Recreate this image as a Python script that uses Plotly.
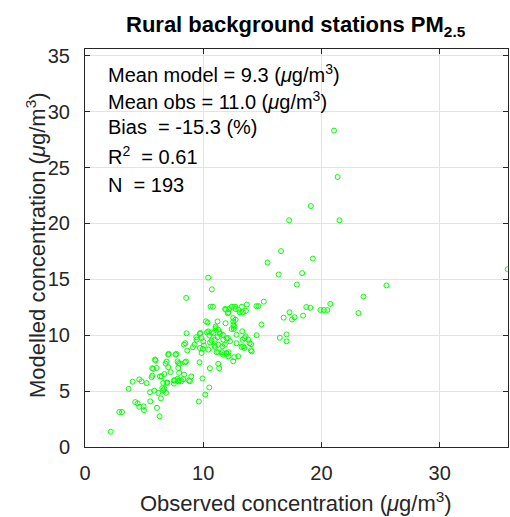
import plotly.graph_objects as go

# Observed (x) and modelled (y) concentrations
obs = [
    # sparse / high values
    21.07, 21.37, 19.10, 17.27, 21.53, 16.58, 19.27, 15.44, 35.75, 16.38, 18.37, 17.92,
    25.50, 23.56, 23.13, 20.75, 20.50, 20.20, 19.92, 19.06, 18.72, 18.45, 17.73, 17.50,
    17.30, 16.80, 17.05, 17.05, 16.48, 14.93, 14.52, 15.12, 14.50, 14.67, 14.05, 14.10,
    # low region
    2.17, 2.90, 3.13, 3.69, 4.03, 4.25, 4.45, 4.59, 4.96, 4.99, 4.59, 4.78, 5.21, 5.50,
    5.52, 5.63, 5.69, 5.69, 5.78, 5.86, 5.92, 5.97, 6.06, 6.09, 6.20, 6.31, 6.34, 6.42,
    6.48, 6.54, 6.62, 6.62, 6.71, 6.71, 6.82, 6.85, 6.90, 6.90, 7.04, 7.07, 6.96, 7.04,
    7.24, 7.52, 7.52, 7.60, 7.66, 7.72, 7.83, 7.83, 7.89, 7.89, 7.89, 7.97, 8.03, 8.03,
    8.17, 8.31, 8.37, 8.39, 8.45, 8.48, 8.54, 8.56, 8.59, 8.65, 8.79, 8.87, 8.99,
    # middle region
    9.13, 9.27, 9.41, 9.44, 9.63, 9.69, 9.72, 9.72, 9.75, 9.86, 9.86, 9.94, 9.97, 10.00,
    10.06, 10.17, 10.23, 10.37, 10.31, 10.43, 10.43, 10.42, 10.51, 10.54, 10.56, 10.57,
    10.62, 10.82, 10.71, 10.73, 10.70, 10.85, 10.96, 10.99, 10.99, 11.04, 11.05, 11.13,
    11.21, 11.21, 11.27, 11.27, 11.27, 11.27, 11.35, 11.38, 11.41,
    # upper-middle region
    11.58, 11.61, 11.66, 11.69, 11.69, 11.83, 11.86, 11.89, 11.92, 11.97, 11.97, 12.00,
    12.08, 12.09, 12.12, 12.12, 12.14, 12.20, 12.26, 12.40, 12.42, 12.54, 12.54, 12.54,
    12.56, 12.59, 12.62, 12.62, 12.70, 12.74, 12.74, 12.82, 12.82, 12.96, 12.96, 13.10,
    13.27, 13.24, 13.30, 13.33, 13.35, 13.38, 13.47, 13.49, 13.58, 13.61, 13.69, 13.80,
    13.92, 14.03,
]
model = [
    28.30, 24.15, 21.55, 20.28, 20.28, 17.52, 16.85, 16.50, 15.90, 15.43, 15.55, 14.53,
    14.45, 13.46, 11.98, 12.80, 12.25, 12.25, 12.25, 12.45, 12.52, 11.75, 11.60, 11.40,
    12.05, 11.57, 10.07, 9.45, 9.77, 10.96, 10.00, 13.00, 12.60, 12.60, 9.20, 8.55,
    1.36, 3.13, 3.13, 5.20, 5.84, 4.02, 3.90, 3.60, 3.64, 3.30, 6.05, 5.87, 5.72, 4.90,
    4.08, 6.24, 6.38, 7.05, 6.98, 5.04, 7.82, 7.75, 7.07, 3.50, 4.84, 2.75, 6.32, 4.35,
    6.32, 5.27, 5.07, 5.73, 6.53, 5.20, 7.46, 4.84, 5.73, 7.64, 8.26, 8.33, 5.77, 7.14,
    6.70, 5.95, 5.67, 5.96, 8.26, 8.33, 7.66, 6.10, 7.50, 7.07, 5.88, 6.63, 7.46, 5.95,
    5.88, 6.07, 9.16, 6.47, 7.57, 9.28, 7.64, 13.34, 10.17, 8.63, 5.95, 5.88, 6.31,
    8.93, 9.16, 9.82, 9.60, 4.07, 7.58, 10.13, 8.86, 10.20, 8.41, 9.75, 6.13, 8.78, 9.45,
    9.07, 4.69, 11.24, 11.14, 10.26, 10.34, 8.71, 15.15, 5.32, 9.97, 7.05, 9.36,
    12.55, 12.55, 10.25, 14.10, 9.52, 10.17, 9.07, 9.60, 8.95, 10.62, 10.79, 8.48,
    9.82, 11.23, 7.44, 10.49, 9.15, 8.47, 7.05, 10.26, 10.13,
    8.48, 9.00, 10.03, 9.60, 8.26, 9.15, 12.35, 11.07, 12.28, 9.73, 8.41, 8.33,
    11.96, 9.75, 12.04, 8.11, 8.48, 12.35, 9.45, 10.55, 12.55, 11.24, 11.53, 7.67,
    10.92, 10.56, 8.03, 10.79, 12.55, 11.38, 12.34, 9.28, 10.04, 12.28, 8.11, 12.04,
    12.55, 8.95, 10.35, 9.60, 12.05, 9.01, 8.86, 9.73, 9.89, 12.17, 12.74, 9.60,
    9.28, 8.65,
]

x_ticks = [0, 10, 20, 30]
y_ticks = [0, 5, 10, 15, 20, 25, 30, 35]

title_text = "<b>Rural background stations PM<sub>2.5</sub></b>"
x_title = "Observed concentration (<i>μ</i>g/m<sup>3</sup>)"
y_title = "Modelled concentration (<i>μ</i>g/m<sup>3</sup>)"
stats_lines = [
    "Mean model = 9.3 (<i>μ</i>g/m<sup>3</sup>)",
    "Mean obs = 11.0 (<i>μ</i>g/m<sup>3</sup>)",
    "Bias  = -15.3 (%)",
    "R<sup>2</sup>  = 0.61",
    "N  = 193",
]

FONT = "Liberation Sans, Arial, Helvetica, sans-serif"
AX = "#262626"
GRID = "#e3e3e3"

W, H = 510, 517
L, R, T, B = 85, 2, 49, 70
plot_left, plot_right = L, W - R
plot_top, plot_bottom = T, H - B
pw, ph = plot_right - plot_left, plot_bottom - plot_top


def px_to_paper_x(px):
    return (px - plot_left) / pw


def px_to_paper_y(py):
    return (plot_bottom - py) / ph


fig = go.Figure()
fig.add_trace(go.Scatter(
    x=obs, y=model, mode="markers",
    marker=dict(symbol="circle-open", size=5, color="#00ff00", line=dict(width=1, color="#00ff00")),
    showlegend=False, hoverinfo="skip",
))

axis_common = dict(
    showline=True, linecolor=AX, linewidth=1, mirror="ticks",
    ticks="inside", ticklen=5, tickcolor=AX, tickwidth=1,
    showgrid=True, gridcolor=GRID, gridwidth=1, zeroline=False,
    tickfont=dict(family=FONT, size=20, color=AX),
)

fig.update_xaxes(range=[0, 35.78], tickvals=x_ticks, ticktext=[str(t) for t in x_ticks],
                 ticklabelstandoff=8, **axis_common)
fig.update_yaxes(range=[0, 35.6], tickvals=y_ticks, ticktext=[str(t) for t in y_ticks],
                 ticklabelstandoff=10, **axis_common)

annotations = []
line_y = [73, 100, 127, 155, 185]
for txt, py in zip(stats_lines, line_y):
    annotations.append(dict(
        text=txt, xref="paper", yref="paper",
        x=px_to_paper_x(106), y=px_to_paper_y(py),
        xanchor="left", yanchor="middle", showarrow=False,
        font=dict(family=FONT, size=20, color="#000000"),
    ))
annotations.append(dict(
    text=title_text, xref="paper", yref="paper",
    x=px_to_paper_x(296), y=px_to_paper_y(26),
    xanchor="center", yanchor="middle", showarrow=False,
    font=dict(family=FONT, size=22, color="#000000"),
))
annotations.append(dict(
    text=x_title, xref="paper", yref="paper",
    x=px_to_paper_x(296), y=px_to_paper_y(502),
    xanchor="center", yanchor="middle", showarrow=False,
    font=dict(family=FONT, size=22, color=AX),
))
annotations.append(dict(
    text=y_title, xref="paper", yref="paper", textangle=-90,
    x=px_to_paper_x(36), y=px_to_paper_y(245),
    xanchor="center", yanchor="middle", showarrow=False,
    font=dict(family=FONT, size=22, color=AX),
))

fig.update_layout(
    width=W, height=H,
    margin=dict(l=L, r=R, t=T, b=B),
    paper_bgcolor="white", plot_bgcolor="white",
    annotations=annotations,
)

fig.write_html("out.html")
